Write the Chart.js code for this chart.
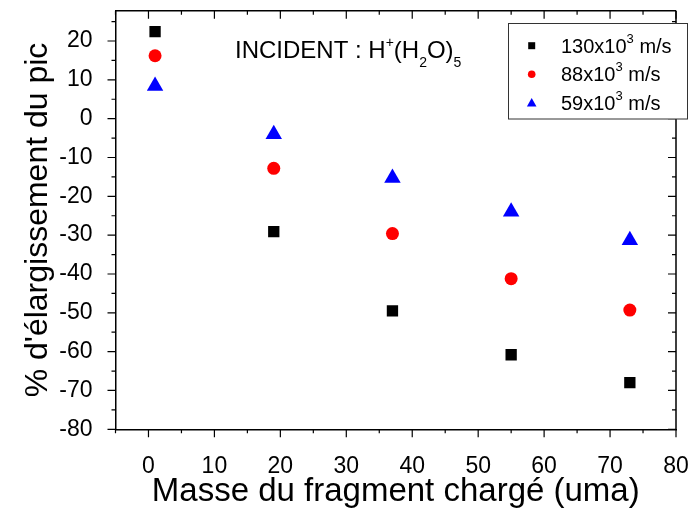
<!DOCTYPE html>
<html>
<head>
<meta charset="utf-8">
<script src="https://cdn.jsdelivr.net/npm/chart.js@4"></script>
<style>
  body { margin: 0; background: #fff; }
  canvas { display: block; }
</style>
</head>
<body>
<canvas id="chart" width="691" height="508"></canvas>
<script>
// fragment mass (uma)
var masses = [1, 19, 37, 55, 73];
// peak broadening (%) for each incident velocity
var v130 = [22.4, -29.1, -49.5, -60.8, -68.0];
var v88 = [16.2, -12.8, -29.6, -41.2, -49.3];
var v59 = [8.4, -4.0, -15.3, -24.0, -31.3];
var seriesLabels = ['130x10', '88x10', '59x10'];
var xTickLabels = [0, 10, 20, 30, 40, 50, 60, 70, 80];
var yTickLabels = [-80, -70, -60, -50, -40, -30, -20, -10, 0, 10, 20];

var FONT = '"Liberation Sans", Arial, sans-serif';

function pts(ys) {
    return masses.map(function (m, i) { return { x: m, y: ys[i] }; });
}

// frame ticks (major outward/inward, minor shorter), legend and the INCIDENT label
var decorations = {
    id: 'decorations',
    afterDraw: function (chart) {
        var ctx = chart.ctx;
        var a = chart.chartArea;
        var xs = chart.scales.x, ys = chart.scales.y;
        ctx.save();
        ctx.strokeStyle = '#000';
        ctx.lineWidth = 1.5;
        // top and right frame lines
        ctx.beginPath();
        ctx.moveTo(a.left, a.top); ctx.lineTo(a.right, a.top);
        ctx.moveTo(a.right, a.top); ctx.lineTo(a.right, a.bottom);
        ctx.stroke();

        ctx.lineWidth = 1.2;
        ctx.beginPath();
        for (var v = -5; v <= 80; v += 5) {
            var px = xs.getPixelForValue(v);
            var len = v % 10 === 0 ? 8 : 4;
            ctx.moveTo(px, a.bottom); ctx.lineTo(px, a.bottom + len);
            ctx.moveTo(px, a.top); ctx.lineTo(px, a.top + len);
        }
        for (var w = -80; w <= 25; w += 5) {
            var py = ys.getPixelForValue(w);
            var l2 = w % 10 === 0 ? 8 : 4;
            ctx.moveTo(a.left, py); ctx.lineTo(a.left - l2, py);
            ctx.moveTo(a.right, py); ctx.lineTo(a.right - l2, py);
        }
        ctx.stroke();

        // annotation
        ctx.fillStyle = '#000';
        ctx.textBaseline = 'alphabetic';
        var x = 235, base = 58.3;
        function put(t, size, dy) {
            ctx.font = size + 'px ' + FONT;
            ctx.fillText(t, x, base + dy);
            x += ctx.measureText(t).width;
        }
        put('INCIDENT : H', 24, 0);
        put('+', 14, -11);
        put('(H', 24, 0);
        put('2', 14, 9);
        put('O)', 24, 0);
        put('5', 14, 9);

        // legend box
        var bx = 508.5, by = 23.5, bw = 179, bh = 95.5;
        ctx.fillStyle = '#fff';
        ctx.fillRect(bx, by, bw, bh);
        ctx.strokeStyle = '#333';
        ctx.lineWidth = 1;
        ctx.strokeRect(bx, by, bw, bh);

        var colors = ['#000000', '#ff0000', '#0000ff'];
        var baselines = [52.7, 81.3, 110];
        for (var i = 0; i < 3; i++) {
            var cy = baselines[i] - 7;
            var mx = 531.7;
            ctx.fillStyle = colors[i];
            ctx.beginPath();
            if (i === 0) {
                ctx.rect(mx - 3.5, cy - 3.5, 7, 7);
            } else if (i === 1) {
                ctx.arc(mx, cy, 3.8, 0, Math.PI * 2);
            } else {
                ctx.moveTo(mx, cy - 5);
                ctx.lineTo(mx + 4.8, cy + 3.5);
                ctx.lineTo(mx - 4.8, cy + 3.5);
                ctx.closePath();
            }
            ctx.fill();
            ctx.fillStyle = '#000';
            x = 561; base = baselines[i];
            put(seriesLabels[i], 20, 0);
            put('3', 13, -10);
            put(' m/s', 20, 0);
        }
        ctx.restore();
    }
};

new Chart(document.getElementById('chart'), {
    type: 'scatter',
    data: {
        datasets: [
            { label: '130x10^3 m/s', data: pts(v130), pointStyle: 'rect', pointRadius: 8,
              backgroundColor: '#000000', borderColor: '#000000', borderWidth: 0 },
            { label: '88x10^3 m/s', data: pts(v88), pointStyle: 'circle', pointRadius: 6.5,
              backgroundColor: '#ff0000', borderColor: '#ff0000', borderWidth: 0 },
            { label: '59x10^3 m/s', data: pts(v59), pointStyle: 'triangle', pointRadius: 9.5,
              backgroundColor: '#0000ff', borderColor: '#0000ff', borderWidth: 0 }
        ]
    },
    options: {
        responsive: false,
        animation: false,
        events: [],
        layout: { padding: { top: 10.7, right: 15, left: 0, bottom: 0 } },
        plugins: {
            legend: { display: false },
            tooltip: { enabled: false }
        },
        scales: {
            x: {
                type: 'linear',
                min: -5,
                max: 80,
                grid: { display: false },
                border: { display: true, color: '#000', width: 1.5 },
                afterBuildTicks: function (s) {
                    s.ticks = xTickLabels.map(function (v) { return { value: v }; });
                },
                afterFit: function (s) {
                    s.height = 508 - 429.3;
                    s.paddingLeft = 0; s.paddingRight = 0;
                },
                ticks: { color: '#000', padding: 16, maxRotation: 0, autoSkip: false,
                         font: { family: FONT, size: 23 } },
                title: { display: true, text: 'Masse du fragment chargé (uma)', color: '#000',
                         padding: { top: 0, bottom: 0 },
                         font: { family: FONT, size: 33, lineHeight: 1 } }
            },
            y: {
                type: 'linear',
                min: -80,
                max: 27.8,
                grid: { display: false },
                border: { display: true, color: '#000', width: 1.5 },
                afterBuildTicks: function (s) {
                    s.ticks = yTickLabels.map(function (v) { return { value: v }; });
                },
                afterFit: function (s) {
                    s.width = 115.5;
                    s.paddingTop = 0; s.paddingBottom = 0;
                },
                ticks: { color: '#000', padding: 15, autoSkip: false,
                         font: { family: FONT, size: 23 } },
                title: { display: true, text: "% d'élargissement du pic", color: '#000',
                         padding: { top: 22, bottom: 0 },
                         font: { family: FONT, size: 32, lineHeight: 1 } }
            }
        }
    },
    plugins: [decorations]
});
</script>
</body>
</html>
